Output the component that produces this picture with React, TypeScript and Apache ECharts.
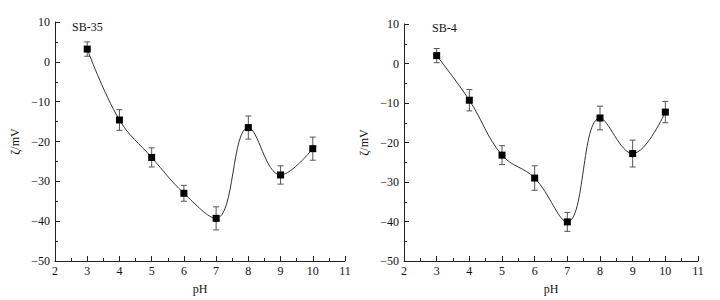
import React, { useEffect, useRef } from "react";
import * as echarts from "echarts";

const pH = [3, 4, 5, 6, 7, 8, 9, 10];
const sb35Values = [3.2, -14.6, -24.0, -33.0, -39.3, -16.5, -28.4, -21.8];
const sb35Errors = [1.8, 2.6, 2.4, 2.0, 2.9, 2.9, 2.3, 2.9];
const sb4Values = [2.0, -9.3, -23.2, -29.0, -40.1, -13.8, -22.8, -12.3];
const sb4Errors = [1.8, 2.7, 2.4, 3.1, 2.4, 3.0, 3.4, 2.7];
const panelTitles = ["SB-35", "SB-4"];
const xAxisName = "pH";
const yAxisName = "ζ/mV";

const FONT = "'Liberation Serif', 'Times New Roman', Times, serif";
const FS = 12;
const OFF = 8; // body margin

function fmtMinus(v: number) {
  return String(v).replace("-", "−");
}

export default function App() {
  const ref = useRef<HTMLDivElement>(null);
  useEffect(() => {
    if (!ref.current) return;
    const chart = echarts.init(ref.current, null, { renderer: "svg" });

    const grids = [
      { left: 48 - OFF, top: 22 - OFF, width: 297, height: 239 },
      { left: 404 - OFF, top: 24 - OFF, width: 294, height: 238 },
    ];

    const mkX = (gi: number) => ({
      type: "value",
      gridIndex: gi,
      min: 2,
      max: 11,
      interval: 1,
      name: xAxisName,
      nameLocation: "middle",
      nameGap: 22,
      nameTextStyle: { fontFamily: FONT, fontSize: FS, color: "#111" },
      axisLine: { show: true, onZero: false, lineStyle: { color: "#222", width: 1 } },
      axisTick: { show: true, inside: true, length: 5, lineStyle: { color: "#222" } },
      minorTick: { show: true, splitNumber: 2, length: 3, lineStyle: { color: "#222" } },
      axisLabel: { fontFamily: FONT, fontSize: FS, color: "#111", margin: 4 },
      splitLine: { show: false },
    });
    const mkY = (gi: number) => ({
      type: "value",
      gridIndex: gi,
      min: -50,
      max: 10,
      interval: 10,
      name: yAxisName,
      nameLocation: "middle",
      nameGap: 34,
      nameRotate: 90,
      nameTextStyle: { fontFamily: FONT, fontSize: FS, color: "#111" },
      axisLine: { show: true, onZero: false, lineStyle: { color: "#222", width: 1 } },
      axisTick: { show: true, inside: true, length: 5, lineStyle: { color: "#222" } },
      minorTick: { show: true, splitNumber: 2, length: 3, lineStyle: { color: "#222" } },
      axisLabel: {
        fontFamily: FONT,
        fontSize: FS,
        color: "#111",
        margin: 5,
        formatter: (v: number) => fmtMinus(v),
      },
      splitLine: { show: false },
    });

    const errSeries = (gi: number, vals: number[], errs: number[]) => ({
      type: "custom",
      xAxisIndex: gi,
      yAxisIndex: gi,
      data: pH.map((x, i) => [x, vals[i] - errs[i], vals[i] + errs[i]]),
      z: 1,
      renderItem: (params: any, api: any) => {
        const x = api.value(0);
        const lo = api.coord([x, api.value(1)]);
        const hi = api.coord([x, api.value(2)]);
        const cap = 3;
        const style = { stroke: "#555", lineWidth: 1 };
        return {
          type: "group",
          children: [
            { type: "line", shape: { x1: lo[0], y1: lo[1], x2: hi[0], y2: hi[1] }, style },
            { type: "line", shape: { x1: hi[0] - cap, y1: hi[1], x2: hi[0] + cap, y2: hi[1] }, style },
            { type: "line", shape: { x1: lo[0] - cap, y1: lo[1], x2: lo[0] + cap, y2: lo[1] }, style },
          ],
        };
      },
    });

    const lineSeries = (gi: number, vals: number[]) => ({
      type: "line",
      xAxisIndex: gi,
      yAxisIndex: gi,
      data: pH.map((x, i) => [x, vals[i]]),
      smooth: 0.4,
      symbol: "rect",
      symbolSize: 7,
      itemStyle: { color: "#000" },
      lineStyle: { color: "#333", width: 1 },
      z: 3,
    });

    chart.setOption({
      animation: false,
      backgroundColor: "#fff",
      graphic: [
        {
          type: "text",
          left: 72 - OFF,
          top: 21 - OFF,
          style: { text: panelTitles[0], font: `${FS}px ${FONT}`, fill: "#111" },
        },
        {
          type: "text",
          left: 432 - OFF,
          top: 22 - OFF,
          style: { text: panelTitles[1], font: `${FS}px ${FONT}`, fill: "#111" },
        },
      ],
      grid: grids,
      xAxis: [mkX(0), mkX(1)],
      yAxis: [mkY(0), mkY(1)],
      series: [
        errSeries(0, sb35Values, sb35Errors),
        lineSeries(0, sb35Values),
        errSeries(1, sb4Values, sb4Errors),
        lineSeries(1, sb4Values),
      ],
    });
    return () => chart.dispose();
  }, []);
  return <div ref={ref} style={{ width: 712, height: 292 }} />;
}
